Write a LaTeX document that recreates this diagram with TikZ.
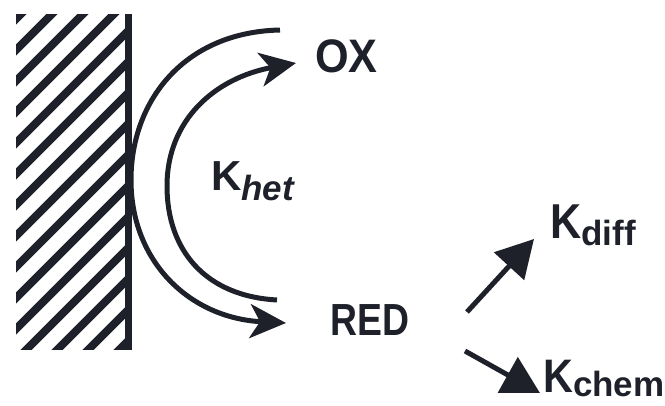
\documentclass[tikz,border=0pt]{standalone}
\usepackage{fontspec}
\setmainfont{Liberation Sans}
\usetikzlibrary{arrows.meta}
\definecolor{ink}{RGB}{30,33,42}
\newcommand{\bigtxt}[3]{\scalebox{#1}[1]{\fontsize{#2}{#2}\selectfont\bfseries #3}}
\newcommand{\subtxt}[2]{\raisebox{#1}{\fontsize{35pt}{35pt}\selectfont\bfseries #2}}
\begin{document}
\begin{tikzpicture}[x=1pt,y=-1pt,
  lbl/.style={inner sep=0pt,anchor=base west,text=ink},
  hatchline/.style={ink,line width=8pt},
  electrode/.style={ink,line width=7pt},
  curvearrow/.style={ink,line width=5pt,-{Stealth[length=36pt,width=34pt,inset=10pt]}},
  straightarrow/.style={ink,line width=5pt,-{Triangle[length=37pt,width=40pt]}}]
\useasboundingbox (0,0) rectangle (665,405);
% hatched electrode
\begin{scope}
  \clip (16,14) rectangle (126,349);
  \foreach \c in {35,66,...,500} \draw[hatchline] (0,\c) -- (\c,0);
\end{scope}
\coordinate (etop) at (128,14);
\coordinate (ebot) at (128,350);
\draw[electrode] (etop) -- (ebot);
% labels
\node[lbl] (ox) at (315,72) {\bigtxt{0.92}{47pt}{OX}};
\node[lbl] (red) at (330,335) {\bigtxt{0.83}{45pt}{RED}};
\node[lbl] (khet) at (211,190) {\bigtxt{1}{42pt}{K}\subtxt{-10pt}{\itshape het}};
\node[lbl] (kdiff) at (550,238) {\bigtxt{0.88}{49pt}{K}\subtxt{-7pt}{diff}};
\node[lbl] (kchem) at (543,392) {\bigtxt{0.88}{47pt}{K}\subtxt{-4pt}{chem}};
% curved arrows
\coordinate (outstart) at (280,30);
\coordinate (outmid) at (131,180);
\coordinate (outend) at (286,323);
\draw[curvearrow] (outstart) .. controls (185,32) and (131,100) .. (outmid)
  .. controls (131,262) and (190,318) .. (outend);
\coordinate (instart) at (277,300);
\coordinate (inmid) at (167,186);
\coordinate (inend) at (296,63);
\draw[curvearrow] (instart) .. controls (205,296) and (167,250) .. (inmid)
  .. controls (167,120) and (215,78) .. (inend);
% straight arrows
\coordinate (dtail) at (467,312);
\coordinate (dtip) at (534,239);
\draw[straightarrow] (dtail) -- (dtip);
\coordinate (ctail) at (465,351);
\coordinate (ctip) at (540,393);
\draw[straightarrow] (ctail) -- (ctip);
\end{tikzpicture}
\end{document}
